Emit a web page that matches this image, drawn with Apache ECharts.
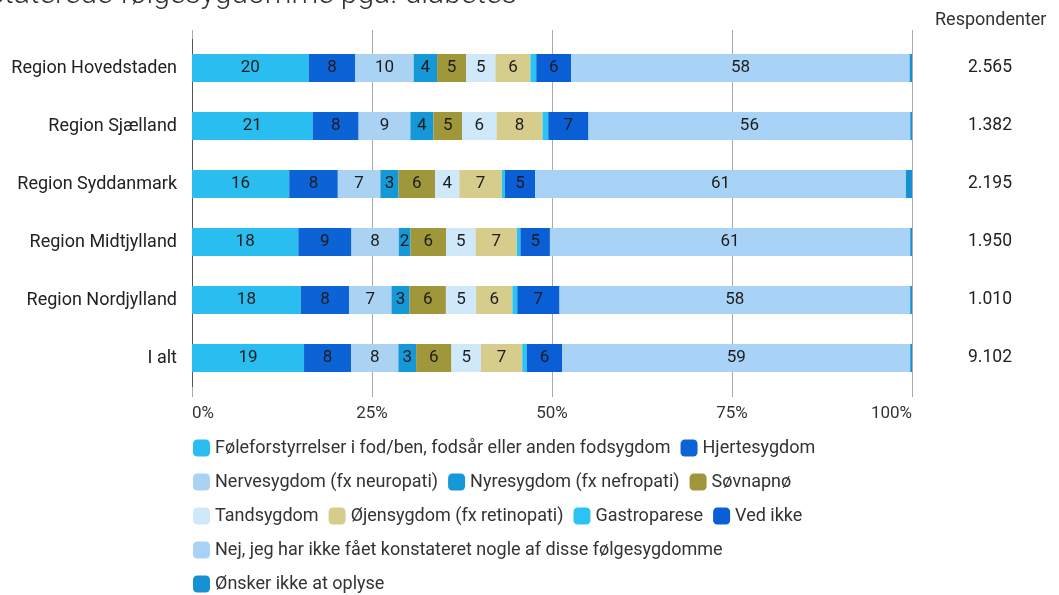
<!DOCTYPE html>
<html>
<head>
<meta charset="utf-8">
<script src="https://cdn.jsdelivr.net/npm/echarts@6/dist/echarts.min.js"></script>
<style>
  html, body { margin: 0; padding: 0; background: #ffffff; }
  #chart { width: 1059px; height: 595px; }
</style>
</head>
<body>
<div id="chart"></div>
<script>
const regions = ['Region Hovedstaden', 'Region Sjælland', 'Region Syddanmark', 'Region Midtjylland', 'Region Nordjylland', 'I alt'];
const respondents = [2565, 1382, 2195, 1950, 1010, 9102];
const tickLabels = ['0%', '25%', '50%', '75%', '100%'];

const categories = [
  'Føleforstyrrelser i fod/ben, fodsår eller anden fodsygdom',
  'Hjertesygdom',
  'Nervesygdom (fx neuropati)',
  'Nyresygdom (fx nefropati)',
  'Søvnapnø',
  'Tandsygdom',
  'Øjensygdom (fx retinopati)',
  'Gastroparese',
  'Ved ikke',
  'Nej, jeg har ikke fået konstateret nogle af disse følgesygdomme',
  'Ønsker ikke at oplyse'
];
const colors = ['#29bdf0', '#0b63d6', '#a9d2f3', '#1598d8', '#a0963a', '#cfe8fa', '#d6cd8c', '#2cc3f2', '#0a5fd6', '#a8d3f6', '#1590d2'];

// values per category, one entry per region (top to bottom)
const foleforstyrrelser = [20, 21, 16, 18, 18, 19];
const hjertesygdom      = [8, 8, 8, 9, 8, 8];
const nervesygdom       = [10, 9, 7, 8, 7, 8];
const nyresygdom        = [4, 4, 3, 2, 3, 3];
const sovnapno          = [5, 5, 6, 6, 6, 6];
const tandsygdom        = [5, 6, 4, 5, 5, 5];
const ojensygdom        = [6, 8, 7, 7, 6, 7];
const gastroparese      = [1, 1, 0.5, 0.6, 0.8, 0.8];
const vedIkke           = [6, 7, 5, 5, 7, 6];
const nej               = [58, 56, 61, 61, 58, 59];
const onskerIkke        = [0.4, 0.3, 1, 0.3, 0.3, 0.3];

const values = [foleforstyrrelser, hjertesygdom, nervesygdom, nyresygdom, sovnapno, tandsygdom,
  ojensygdom, gastroparese, vedIkke, nej, onskerIkke];

const rowTotals = regions.map((r, i) => values.reduce((s, arr) => s + arr[i], 0));

const chart = echarts.init(document.getElementById('chart'));

const series = categories.map((name, k) => ({
  name: name,
  type: 'bar',
  stack: 'total',
  barWidth: 28,
  itemStyle: { color: colors[k] },
  label: {
    show: true,
    position: 'inside',
    color: '#1c1c1c',
    fontFamily: 'Roboto',
    fontSize: 17,
    formatter: p => (p.data.raw >= 2 ? String(p.data.raw) : '')
  },
  emphasis: { disabled: true },
  data: values[k].map((v, i) => ({ value: v / rowTotals[i] * 100, raw: v }))
}));

chart.setOption({
  backgroundColor: '#ffffff',
  animation: false,
  color: colors,
  title: {
    text: 'Konstaterede følgesygdomme pga. diabetes',
    left: -68,
    top: -25,
    textStyle: { fontFamily: 'Roboto', fontWeight: 300, fontSize: 30, color: '#333' }
  },
  graphic: [{
    type: 'text',
    left: 935,
    top: 11,
    style: { text: 'Respondenter', font: '18px Roboto', fill: '#333' }
  }],
  grid: { left: 192, right: 147, top: 39, bottom: 208 },
  legend: {
    left: 188,
    top: 431,
    width: 680,
    itemWidth: 17,
    itemHeight: 17,
    itemGap: 10,
    icon: 'roundRect',
    textStyle: { fontFamily: 'Roboto', fontSize: 18, color: '#333', lineHeight: 24 },
    data: categories
  },
  xAxis: [{
    type: 'value',
    min: 0,
    max: 100,
    interval: 25,
    position: 'bottom',
    axisLine: { show: false },
    axisTick: { show: true, length: 10, lineStyle: { color: '#aaa' } },
    splitLine: { show: true, lineStyle: { color: '#aaa', width: 1 } },
    axisLabel: {
      margin: 18,
      fontFamily: 'Roboto',
      fontSize: 17,
      color: '#333',
      alignMinLabel: 'left',
      alignMaxLabel: 'right',
      formatter: v => tickLabels[v / 25]
    }
  }, {
    type: 'value',
    min: 0,
    max: 100,
    interval: 25,
    position: 'top',
    axisLine: { show: false },
    axisTick: { show: true, length: 9, lineStyle: { color: '#aaa' } },
    axisLabel: { show: false },
    splitLine: { show: false }
  }],
  yAxis: [{
    type: 'category',
    inverse: true,
    data: regions,
    axisLine: { show: true, lineStyle: { color: '#555', width: 1 } },
    axisTick: { show: false },
    axisLabel: { margin: 15, fontFamily: 'Roboto', fontSize: 18, color: '#222' }
  }, {
    type: 'category',
    inverse: true,
    position: 'right',
    data: respondents.map(v => v.toLocaleString('da-DK')),
    axisLine: { show: false },
    axisTick: { show: false },
    axisLabel: { margin: 78, align: 'center', fontFamily: 'Roboto', fontSize: 17.5, color: '#222' }
  }],
  series: series
});

window.addEventListener('resize', () => chart.resize());
</script>
</body>
</html>
